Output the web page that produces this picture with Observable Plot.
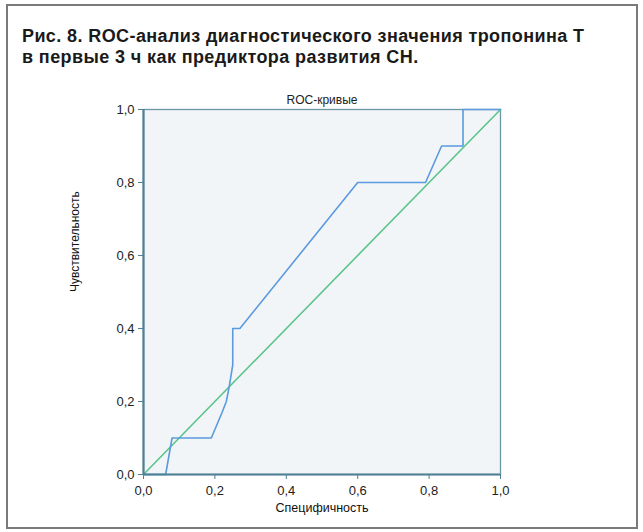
<!DOCTYPE html>
<html>
<head>
<meta charset="utf-8">
<script src="https://cdn.jsdelivr.net/npm/d3@7"></script>
<script src="https://cdn.jsdelivr.net/npm/@observablehq/plot@0.6"></script>
<style>
  html, body { margin: 0; padding: 0; background: #fff; }
  #wrap { position: relative; width: 643px; height: 532px; overflow: hidden; background: #fff; }
  #border { position: absolute; left: 6px; top: 4px; width: 628px; height: 521px; border: 2px solid #7a7a7a; }
  #title { position: absolute; left: 22px; top: 26px; font-family: "Liberation Sans", Arial, sans-serif; font-weight: bold; font-size: 18px; letter-spacing: 0.4px; line-height: 21px; color: #1a1a1a; }
  #chart { position: absolute; left: 0; top: 80px; }
</style>
</head>
<body>
<div id="wrap">
  <div id="border"></div>
  <div id="title">Рис. 8. ROC-анализ диагностического значения тропонина Т<br>в первые 3 ч как предиктора развития СН.</div>
  <div id="chart"></div>
</div>
<script>
// ROC curve (x axis labelled "Специфичность", y = sensitivity)
const rocX = [0, 0.062, 0.08, 0.19, 0.22, 0.232, 0.24, 0.25, 0.25, 0.27, 0.6, 0.79, 0.835, 0.895, 0.895, 1];
const rocY = [0, 0, 0.1, 0.1, 0.17, 0.2, 0.24, 0.3, 0.4, 0.4, 0.8, 0.8, 0.9, 0.9, 1.0, 1];
// Reference diagonal
const refX = [0, 1];
const refY = [0, 1];
// Axis ticks
const tickValues = [0, 0.2, 0.4, 0.6, 0.8, 1.0];
const tickLabels = ["0,0", "0,2", "0,4", "0,6", "0,8", "1,0"];
const chartTitle = "ROC-кривые";
const xLabel = "Специфичность";
const yLabel = "Чувствительность";

const roc = rocX.map((x, i) => ({x, y: rocY[i]}));
const ref = refX.map((x, i) => ({x, y: refY[i]}));
const fmt = d => tickLabels[tickValues.findIndex(v => Math.abs(v - d) < 1e-9)];

const axisColor = "#4f8093";
const plot = Plot.plot({
  width: 643,
  height: 452,
  marginLeft: 143,
  marginRight: 143,
  marginTop: 29,
  marginBottom: 58,
  style: { fontFamily: "'Liberation Sans', Arial, sans-serif", fontSize: "12px", color: "#222", background: "transparent" },
  x: { domain: [0, 1], ticks: tickValues, tickFormat: fmt, label: null },
  y: { domain: [0, 1], ticks: tickValues, tickFormat: fmt, label: null },
  marks: [
    Plot.frame({ fill: "#f2f5f7", stroke: "#6d96a5", strokeWidth: 1.3 }),
    Plot.axisX({ ticks: tickValues, tickFormat: fmt, tickSize: 5, tickPadding: 6, stroke: axisColor, fontSize: 13, label: null }),
    Plot.axisY({ ticks: tickValues, tickFormat: fmt, tickSize: 5, tickPadding: 4, stroke: axisColor, fontSize: 13, label: null }),
    Plot.line(ref, { x: "x", y: "y", stroke: "#5cc48c", strokeWidth: 1.6 }),
    Plot.line(roc, { x: "x", y: "y", stroke: "#5b9ade", strokeWidth: 1.6 }),
    Plot.ruleX([0], { stroke: axisColor, strokeWidth: 2.2 }),
    Plot.ruleY([0], { stroke: axisColor, strokeWidth: 2.2 }),
    Plot.text([chartTitle], { frameAnchor: "top", dy: -14, fontSize: 12, fill: "#222" }),
    Plot.text([xLabel], { frameAnchor: "bottom", dy: 37, fontSize: 12.5, fill: "#111" }),
    Plot.text([yLabel], { frameAnchor: "left", dx: -68, rotate: -90, fontSize: 12, fill: "#111" })
  ]
});
document.getElementById("chart").appendChild(plot);
</script>
</body>
</html>
